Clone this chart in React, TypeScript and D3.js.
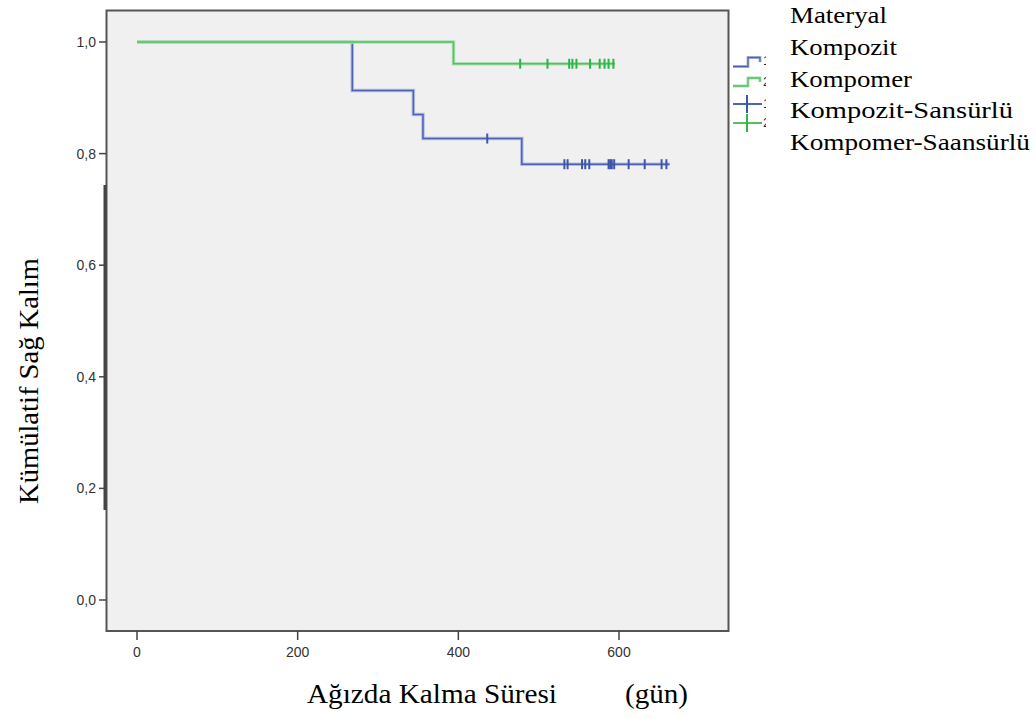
import React from "react";
import * as d3 from "d3";

// ---- Data ----
const kompozitTimes = [0, 268, 344, 356, 479];
const kompozitSurv = [1.0, 0.913, 0.87, 0.827, 0.781];
const kompozitEnd = 663;
const kompozitCensored = [436, 532, 536, 554, 558, 563, 587, 589, 591, 594, 612, 632, 653, 659];

const kompomerTimes = [0, 394];
const kompomerSurv = [1.0, 0.961];
const kompomerEnd = 595;
const kompomerCensored = [477, 511, 538, 542, 547, 564, 576, 582, 587, 593];

const xTicks = [0, 200, 400, 600];
const yTicks = [0, 0.2, 0.4, 0.6, 0.8, 1.0];
const legendTitle = "Materyal";
const legendLabels = ["Kompozit", "Kompomer", "Kompozit-Sansürlü", "Kompomer-Saansürlü"];
const legendWidths = [107, 122, 223, 240];

const W = 1036;
const H = 718;

const x = d3.scaleLinear().domain([0, 600]).range([137, 619]);
const y = d3.scaleLinear().domain([0, 1]).range([600, 42]);

type Pt = [number, number];

function stepPts(times: number[], surv: number[], end: number): Pt[] {
  const pts: Pt[] = times.map((t, i) => [t, surv[i]] as Pt);
  pts.push([end, surv[surv.length - 1]]);
  return pts;
}

function survAt(times: number[], surv: number[], t: number) {
  let s = surv[0];
  for (let i = 0; i < times.length; i++) if (times[i] <= t) s = surv[i];
  return s;
}

const line = d3
  .line<Pt>()
  .x((d) => x(d[0]))
  .y((d) => y(d[1]))
  .curve(d3.curveStepAfter);

const blueHalo = "#b3bde2";
const blueCore = "#4d62b2";
const blueMark = "#3f55ab";
const greenHalo = "#aee0b6";
const greenCore = "#52c063";
const greenMark = "#2fb447";

const serif = "'Liberation Serif', 'Times New Roman', serif";
const sans = "'Liberation Sans', Arial, sans-serif";

export default function App() {
  const series = [
    {
      pts: stepPts(kompozitTimes, kompozitSurv, kompozitEnd),
      cens: kompozitCensored.map((t) => [t, survAt(kompozitTimes, kompozitSurv, t)] as Pt),
      halo: blueHalo,
      core: blueCore,
      mark: blueMark,
    },
    {
      pts: stepPts(kompomerTimes, kompomerSurv, kompomerEnd),
      cens: kompomerCensored.map((t) => [t, survAt(kompomerTimes, kompomerSurv, t)] as Pt),
      halo: greenHalo,
      core: greenCore,
      mark: greenMark,
    },
  ];

  const legendYs = [55, 87, 118, 150];

  return (
    <svg
      width={W}
      height={H}
      style={{ position: "absolute", left: 0, top: 0, background: "#fff" }}
    >
      <defs>
        <clipPath id="legclip">
          <rect x={0} y={0} width={766} height={H} />
        </clipPath>
      </defs>
      {/* Plot frame */}
      <rect x={106.5} y={10.5} width={622} height={620.5} fill="#f0f0f0" stroke="#555" strokeWidth={2} />
      <line x1={105} x2={105} y1={185} y2={510} stroke="#444" strokeWidth={3} />

      {/* Y ticks */}
      {yTicks.map((v) => (
        <g key={"y" + v}>
          <line x1={99} x2={106} y1={y(v)} y2={y(v)} stroke="#444" strokeWidth={1.5} />
          <text
            x={96}
            y={y(v) + 5}
            textAnchor="end"
            fontFamily={sans}
            fontSize={14}
            fill="#333"
          >
            {v.toFixed(1).replace(".", ",")}
          </text>
        </g>
      ))}

      {/* X ticks */}
      {xTicks.map((v) => (
        <g key={"x" + v}>
          <line x1={x(v)} x2={x(v)} y1={631} y2={640} stroke="#444" strokeWidth={1.5} />
          <text x={x(v)} y={657} textAnchor="middle" fontFamily={sans} fontSize={14} fill="#333">
            {v}
          </text>
        </g>
      ))}

      {/* Survival curves */}
      {series.map((s, i) => (
        <g key={"s" + i}>
          <path d={line(s.pts) || ""} fill="none" stroke={s.halo} strokeWidth={3.5} />
          <path d={line(s.pts) || ""} fill="none" stroke={s.core} strokeWidth={1.5} />
          {s.cens.map((c, j) => (
            <line
              key={j}
              x1={x(c[0])}
              x2={x(c[0])}
              y1={y(c[1]) - 5}
              y2={y(c[1]) + 5}
              stroke={s.mark}
              strokeWidth={2}
            />
          ))}
        </g>
      ))}

      {/* Axis titles */}
      <text
        transform="translate(38,381) rotate(-90)"
        textAnchor="middle"
        fontFamily={serif}
        fontSize={28}
        fill="#000"
        textLength={246}
        lengthAdjust="spacingAndGlyphs"
      >
        Kümülatif Sağ Kalım
      </text>
      <text x={307} y={703} fontFamily={serif} fontSize={28} fill="#000" textLength={250} lengthAdjust="spacingAndGlyphs">
        Ağızda Kalma Süresi
      </text>
      <text x={625} y={703} fontFamily={serif} fontSize={28} fill="#000" textLength={63} lengthAdjust="spacingAndGlyphs">
        (gün)
      </text>

      {/* Legend */}
      <text x={790} y={23} fontFamily={serif} fontSize={24} fill="#000" textLength={97} lengthAdjust="spacingAndGlyphs">
        {legendTitle}
      </text>
      {legendLabels.map((l, i) => (
        <text
          key={l}
          x={790}
          y={legendYs[i]}
          fontFamily={serif}
          fontSize={24}
          fill="#000"
          textLength={legendWidths[i]}
          lengthAdjust="spacingAndGlyphs"
        >
          {l}
        </text>
      ))}
      <g clipPath="url(#legclip)">
        {/* step symbols */}
        <path d="M733,66.5 H748 V57.5 H760 V62" fill="none" stroke={blueHalo} strokeWidth={3} />
        <path d="M733,66.5 H748 V57.5 H760 V62" fill="none" stroke={blueCore} strokeWidth={1.3} />
        <path d="M733,86 H748 V78 H760 V82" fill="none" stroke={greenHalo} strokeWidth={3} />
        <path d="M733,86 H748 V78 H760 V82" fill="none" stroke={greenCore} strokeWidth={1.3} />
        {/* plus symbols */}
        <line x1={733} x2={762} y1={104} y2={104} stroke={blueCore} strokeWidth={2} />
        <line x1={747} x2={747} y1={95} y2={113} stroke={blueMark} strokeWidth={2} />
        <line x1={733} x2={762} y1={123} y2={123} stroke={greenCore} strokeWidth={2} />
        <line x1={747} x2={747} y1={114} y2={132} stroke={greenMark} strokeWidth={2} />
        {["1", "2", "1", "2"].map((t, i) => (
          <text key={"n" + i} x={763} y={[65, 86, 108, 127][i]} fontFamily={sans} fontSize={13} fill="#222">
            {t}
          </text>
        ))}
      </g>
    </svg>
  );
}
